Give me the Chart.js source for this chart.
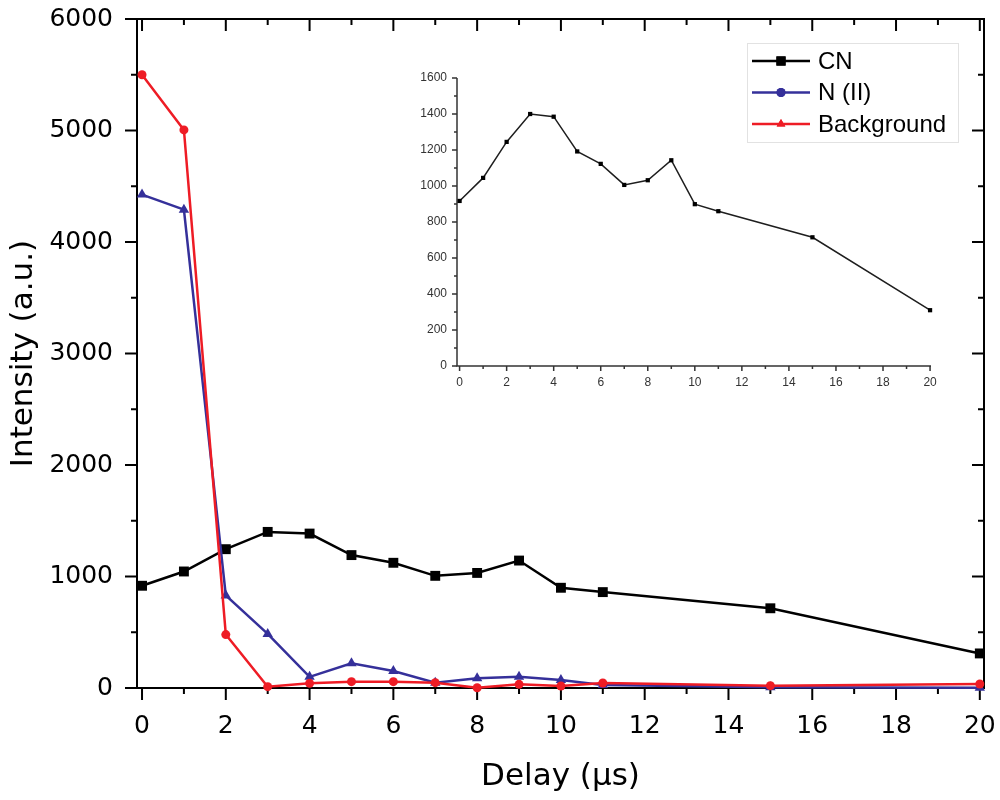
<!DOCTYPE html>
<html>
<head>
<meta charset="utf-8">
<script src="https://cdn.jsdelivr.net/npm/chart.js@4.4.1/dist/chart.umd.min.js"></script>
<style>
  html, body { margin: 0; padding: 0; background: #fff; }
  #wrap { position: relative; width: 1000px; height: 800px; }
  #main { position: absolute; left: 0; top: 0; }
  #inset { position: absolute; left: 400px; top: 60px; }
</style>
</head>
<body>
<div id="wrap">
  <canvas id="main" width="1000" height="800"></canvas>
  <canvas id="inset" width="560" height="340"></canvas>
</div>
<script>
// delay in microseconds, intensities in a.u.
const delay = [0, 1, 2, 3, 4, 5, 6, 7, 8, 9, 10, 11, 15, 20];
const cnIntensity = [917, 1045, 1245, 1400, 1385, 1192, 1123, 1006, 1032, 1143, 899, 860, 715, 310];
const n2Intensity = [4425, 4290, 830, 485, 100, 222, 153, 48, 87, 100, 72, 27, 6, 2];
const bgIntensity = [5500, 5005, 479, 12, 42, 57, 57, 48, 2, 33, 18, 45, 21, 36];

// tick values
const xMajor = [0, 2, 4, 6, 8, 10, 12, 14, 16, 18, 20];
const xMinor = [1, 3, 5, 7, 9, 11, 13, 15, 17, 19];
const yMajor = [0, 1000, 2000, 3000, 4000, 5000, 6000];
const yMinor = [500, 1500, 2500, 3500, 4500, 5500];
const insetYMajor = [0, 200, 400, 600, 800, 1000, 1200, 1400, 1600];
const insetYMinor = [100, 300, 500, 700, 900, 1100, 1300, 1500];

const seriesNames = ['CN', 'N (II)', 'Background'];
const seriesColors = ['#000000', '#35309a', '#ee1c25'];

const pts = ys => delay.map((x, i) => ({ x, y: ys[i] }));

// axis lines + major/minor tick marks (outward on left/bottom, inward on top/right)
const axisFrame = {
  id: 'axisFrame',
  beforeDatasetsDraw(chart, args, o) {
    const { ctx, chartArea: a, scales: { x, y } } = chart;
    ctx.save();
    ctx.strokeStyle = o.color;
    ctx.lineWidth = o.width;
    ctx.beginPath();
    ctx.moveTo(a.left, a.top);
    ctx.lineTo(a.left, a.bottom);
    ctx.lineTo(a.right, a.bottom);
    if (o.box) {
      ctx.lineTo(a.right, a.top);
      ctx.lineTo(a.left, a.top);
      ctx.closePath();
    }
    ctx.stroke();
    ctx.beginPath();
    const seg = (x0, y0, x1, y1) => { ctx.moveTo(x0, y0); ctx.lineTo(x1, y1); };
    const xt = (vals, len) => vals.forEach(v => {
      const p = x.getPixelForValue(v);
      seg(p, a.bottom, p, a.bottom + len);
      if (o.box) seg(p, a.top, p, a.top + len);
    });
    const yt = (vals, len) => vals.forEach(v => {
      const p = y.getPixelForValue(v);
      seg(a.left, p, a.left - len, p);
      if (o.box) seg(a.right, p, a.right - len, p);
    });
    xt(o.xMajor, o.major); xt(o.xMinor, o.minor);
    yt(o.yMajor, o.major); yt(o.yMinor, o.minor);
    ctx.stroke();
    ctx.restore();
  }
};

// boxed legend inside the plot
const boxLegend = {
  id: 'boxLegend',
  afterDraw(chart, args, o) {
    if (!o.display) return;
    const { ctx } = chart;
    ctx.save();
    ctx.fillStyle = '#fff';
    ctx.fillRect(o.x, o.y, o.w, o.h);
    ctx.strokeStyle = '#e2e2e2';
    ctx.lineWidth = 1;
    ctx.strokeRect(o.x + 0.5, o.y + 0.5, o.w, o.h);
    o.items.forEach((it, i) => {
      const cy = o.y + o.first + i * o.step;
      ctx.strokeStyle = it.color;
      ctx.lineWidth = 2.5;
      ctx.beginPath();
      ctx.moveTo(o.x + 5, cy);
      ctx.lineTo(o.x + 63, cy);
      ctx.stroke();
      ctx.fillStyle = it.color;
      Chart.helpers.drawPoint(ctx, { pointStyle: it.marker, radius: it.r, borderWidth: 0 }, o.x + 34, cy);
      ctx.fill();
      ctx.fillStyle = '#000';
      ctx.font = '24px "Liberation Sans", Arial, sans-serif';
      ctx.textBaseline = 'middle';
      ctx.fillText(it.text, o.x + 71, cy + 1);
    });
    ctx.restore();
  }
};

Chart.register(axisFrame, boxLegend);

const mainFont = { family: '"DejaVu Sans", sans-serif', size: 25 };
const fixTicks = vals => s => { s.ticks = vals.map(v => ({ value: v })); };
// pin the axis box size and drop the label overhang padding
const fixSize = size => s => {
  if (s.isHorizontal()) s.height = size; else s.width = size;
  s.paddingTop = s.paddingBottom = s.paddingLeft = s.paddingRight = 0;
};

new Chart(document.getElementById('main'), {
  type: 'line',
  data: {
    datasets: [
      {
        label: seriesNames[0], data: pts(cnIntensity), order: 2,
        borderColor: seriesColors[0], backgroundColor: seriesColors[0], borderWidth: 2.5,
        pointStyle: 'rect', pointRadius: 7, pointBorderWidth: 0, clip: 12
      },
      {
        label: seriesNames[1], data: pts(n2Intensity), order: 1,
        borderColor: seriesColors[1], backgroundColor: seriesColors[1], borderWidth: 2.5,
        pointStyle: 'triangle', pointRadius: 6, pointBorderWidth: 0, clip: 12
      },
      {
        label: seriesNames[2], data: pts(bgIntensity), order: 0,
        borderColor: seriesColors[2], backgroundColor: seriesColors[2], borderWidth: 2.5,
        pointStyle: 'circle', pointRadius: 4.5, pointBorderWidth: 0, clip: 12
      }
    ]
  },
  options: {
    responsive: false,
    animation: false,
    devicePixelRatio: 1,
    layout: { padding: { left: 0, top: 19, right: 16, bottom: 0 } },
    plugins: {
      legend: { display: false },
      tooltip: { enabled: false },
      axisFrame: { color: '#000', width: 2, box: true, major: 12, minor: 6, xMajor, xMinor, yMajor, yMinor },
      boxLegend: {
        display: true, x: 747, y: 43, w: 211, h: 99, first: 18, step: 31.5,
        items: [
          { text: seriesNames[0], color: seriesColors[0], marker: 'rect', r: 6.5 },
          { text: seriesNames[1], color: seriesColors[1], marker: 'circle', r: 4.5 },
          { text: seriesNames[2], color: seriesColors[2], marker: 'triangle', r: 5 }
        ]
      }
    },
    scales: {
      x: {
        type: 'linear', min: -0.12, max: 20.1,
        afterBuildTicks: fixTicks(xMajor),
        afterFit: fixSize(112),
        grid: { display: false, drawTicks: false },
        border: { display: false },
        ticks: { font: mainFont, color: '#000', padding: 23, maxRotation: 0, callback: v => String(v) },
        title: {
          display: true, text: 'Delay (μs)', color: '#000',
          font: { family: '"DejaVu Sans", sans-serif', size: 31 },
          padding: { top: 0, bottom: 4 }
        }
      },
      y: {
        type: 'linear', min: 0, max: 6000,
        afterBuildTicks: fixTicks(yMajor),
        afterFit: fixSize(137),
        grid: { display: false, drawTicks: false },
        border: { display: false },
        ticks: { font: mainFont, color: '#000', padding: 24, callback: v => String(v) },
        title: {
          display: true, text: 'Intensity (a.u.)', color: '#000',
          font: { family: '"DejaVu Sans", sans-serif', size: 31 },
          padding: { top: 5, bottom: 0 }
        }
      }
    }
  }
});

// inset: CN only, zoomed in
const insetFont = { family: '"Liberation Sans", Arial, sans-serif', size: 12 };
new Chart(document.getElementById('inset'), {
  type: 'line',
  data: {
    datasets: [{
      label: seriesNames[0], data: pts(cnIntensity),
      borderColor: '#1e1e1e', backgroundColor: '#000', borderWidth: 1.5,
      pointStyle: 'rect', pointRadius: 3, pointBorderWidth: 0, clip: 6
    }]
  },
  options: {
    responsive: false,
    animation: false,
    devicePixelRatio: 1,
    layout: { padding: { left: 0, top: 18, right: 29, bottom: 0 } },
    plugins: {
      legend: { display: false },
      tooltip: { enabled: false },
      boxLegend: { display: false },
      axisFrame: {
        color: '#333', width: 1.5, box: false, major: 5, minor: 3,
        xMajor, xMinor, yMajor: insetYMajor, yMinor: insetYMinor
      }
    },
    scales: {
      x: {
        type: 'linear', min: -0.11, max: 20.04,
        afterBuildTicks: fixTicks(xMajor),
        afterFit: fixSize(34),
        grid: { display: false, drawTicks: false },
        border: { display: false },
        ticks: { font: insetFont, color: '#333', padding: 9, maxRotation: 0, callback: v => String(v) }
      },
      y: {
        type: 'linear', min: 0, max: 1600,
        afterBuildTicks: fixTicks(insetYMajor),
        afterFit: fixSize(57),
        grid: { display: false, drawTicks: false },
        border: { display: false },
        ticks: { font: insetFont, color: '#333', padding: 10, callback: v => String(v) }
      }
    }
  }
});
</script>
</body>
</html>
